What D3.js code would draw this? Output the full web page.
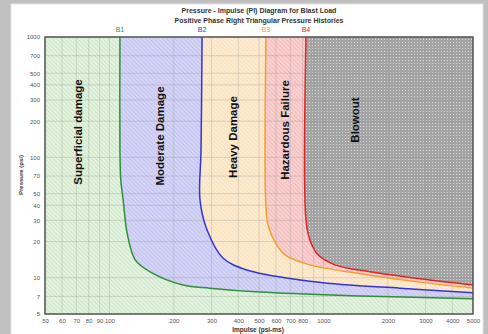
<!DOCTYPE html>
<html>
<head>
<meta charset="utf-8">
<script src="https://cdn.jsdelivr.net/npm/d3@7"></script>
<style>
  body { margin: 0; background: #c0c0c0; }
  svg { display: block; font-family: "Liberation Sans", Arial, sans-serif; }
</style>
</head>
<body>
<div id="chart"></div>
<script>
// curve data (impulse psi-ms, pressure psi)
const b1Impulse = [112, 112, 113, 116, 121, 132, 155, 221, 295, 505, 1330, 5000];
const b1Pressure = [1000, 115, 65, 44, 23.5, 14.1, 11.2, 8.7, 8.2, 7.6, 7.1, 6.7];
const b2Impulse = [271, 268, 265, 286, 339, 439, 778, 1330, 2280, 5000];
const b2Pressure = [1000, 115, 44.3, 24.9, 14.6, 11.6, 9.6, 8.7, 8.2, 7.5];
const b3Impulse = [539, 537, 551, 594, 661, 865, 1483, 2827, 5000];
const b3Pressure = [1000, 44.3, 27.4, 19.8, 15.5, 12.8, 10.8, 9.2, 8.2];
const b4Impulse = [829, 829, 865, 943, 1133, 1651, 2827, 5000];
const b4Pressure = [1000, 30.2, 20.6, 15.5, 12.8, 11.2, 9.8, 8.7];

const xTicks = [50, 60, 70, 80, 90, 100, 200, 300, 400, 500, 600, 700, 800, 1000, 2000, 3000, 4000, 5000];
const xGrid = [50, 60, 70, 80, 90, 100, 200, 300, 400, 500, 600, 700, 800, 900, 1000, 2000, 3000, 4000, 5000];
const yTicks = [5, 7, 10, 20, 30, 40, 50, 70, 100, 200, 300, 400, 500, 700, 1000];

const zones = ["Superficial damage", "Moderate Damage", "Heavy Damage", "Hazardous Failure", "Blowout"];
const boundaryNames = ["B1", "B2", "B3", "B4"];

const W = 488, H = 334;
const margin = { top: 37, right: 15, bottom: 20, left: 45 };

const svg = d3.select("#chart").append("svg")
  .attr("width", W).attr("height", H);

const x = d3.scaleLog().domain([50, 5000]).range([margin.left, W - margin.right]);
const y = d3.scaleLog().domain([5, 1000]).range([H - margin.bottom, margin.top]);

// panel
svg.append("rect").attr("width", W).attr("height", H).attr("fill", "#c0c0c0");
svg.append("rect").attr("x", 11).attr("y", 4).attr("width", 472).attr("height", 340)
  .attr("fill", "#fff").attr("stroke", "#e4e4e4");

// patterns
const defs = svg.append("defs");
function hatch(id, bg, fg) {
  const p = defs.append("pattern").attr("id", id)
    .attr("patternUnits", "userSpaceOnUse").attr("width", 3).attr("height", 3)
    .attr("patternTransform", "rotate(-45)");
  p.append("rect").attr("width", 3).attr("height", 3).attr("fill", bg);
  p.append("line").attr("x1", 0).attr("y1", 0).attr("x2", 0).attr("y2", 3)
    .attr("stroke", fg).attr("stroke-width", 1);
}
hatch("pGreen", "#e2f2de", "#bfdcb8");
hatch("pBlue", "#d4d4f6", "#b4b4ea");
hatch("pOrange", "#fdebd0", "#f6d6ac");
hatch("pRed", "#f9d0d0", "#f0a8a8");
const dots = defs.append("pattern").attr("id", "pGray")
  .attr("patternUnits", "userSpaceOnUse").attr("width", 3).attr("height", 3);
dots.append("rect").attr("width", 3).attr("height", 3).attr("fill", "#a4a4a4");
dots.append("rect").attr("width", 1).attr("height", 1).attr("fill", "#d8d8d8");

const curves = [
  { imp: b1Impulse, pr: b1Pressure, color: "#2f8f3a", fill: "url(#pBlue)" },
  { imp: b2Impulse, pr: b2Pressure, color: "#3434d4", fill: "url(#pOrange)" },
  { imp: b3Impulse, pr: b3Pressure, color: "#f0a030", fill: "url(#pRed)" },
  { imp: b4Impulse, pr: b4Pressure, color: "#e02424", fill: "url(#pGray)" }
].map(c => ({ ...c, pts: c.imp.map((v, i) => [v, c.pr[i]]) }));

const lineX = d3.line().x(d => x(d[0])).y(d => y(d[1])).curve(d3.curveCatmullRom.alpha(0.5));

// base green zone
svg.append("rect")
  .attr("x", x(50)).attr("y", y(1000))
  .attr("width", x(5000) - x(50)).attr("height", y(5) - y(1000))
  .attr("fill", "url(#pGreen)");

curves.forEach(c => {
  svg.append("path")
    .attr("d", lineX(c.pts) + "L" + x(5000) + "," + y(1000) + "Z")
    .attr("fill", c.fill);
});

// grid
const grid = svg.append("g").attr("stroke", "#8a8a8a").attr("stroke-opacity", 0.35).attr("stroke-width", 0.8);
xGrid.forEach(v => grid.append("line")
  .attr("x1", x(v)).attr("x2", x(v)).attr("y1", y(1000)).attr("y2", y(5)));
yTicks.forEach(v => grid.append("line")
  .attr("x1", x(50)).attr("x2", x(5000)).attr("y1", y(v)).attr("y2", y(v)));

// boundary curves
curves.forEach(c => {
  svg.append("path").attr("d", lineX(c.pts))
    .attr("fill", "none").attr("stroke", c.color).attr("stroke-width", 1.5);
});

// frame
svg.append("rect")
  .attr("x", x(50)).attr("y", y(1000))
  .attr("width", x(5000) - x(50)).attr("height", y(5) - y(1000))
  .attr("fill", "none").attr("stroke", "#555").attr("stroke-width", 1.5);

// axes
const xAxis = svg.append("g")
  .attr("transform", "translate(0," + y(5) + ")")
  .call(d3.axisBottom(x).tickValues(xTicks).tickFormat(d3.format("d")).tickSize(0).tickPadding(5));
const yAxis = svg.append("g")
  .attr("transform", "translate(" + x(50) + ",0)")
  .call(d3.axisLeft(y).tickValues(yTicks).tickFormat(d3.format("d")).tickSize(0).tickPadding(5));
[xAxis, yAxis].forEach(a => {
  a.select(".domain").remove();
  a.selectAll("text").attr("font-size", 6).attr("fill", "#555").attr("font-family", "Liberation Sans, Arial");
});

// titles
svg.append("text").attr("x", 259).attr("y", 13).attr("text-anchor", "middle")
  .attr("font-size", 7).attr("font-weight", "bold").attr("fill", "#333")
  .text("Pressure - Impulse (PI) Diagram for Blast Load");
svg.append("text").attr("x", 259).attr("y", 23).attr("text-anchor", "middle")
  .attr("font-size", 7).attr("font-weight", "bold").attr("fill", "#333")
  .text("Positive Phase Right Triangular Pressure Histories");

// boundary labels
curves.forEach((c, i) => {
  svg.append("text").attr("x", x(c.imp[0])).attr("y", 32).attr("text-anchor", "middle")
    .attr("font-size", 7).attr("fill", c.color).text(boundaryNames[i]);
});

// zone labels
const zonePos = [[78, 132], [160, 136], [233, 137], [285, 130], [355, 120]];
zones.forEach((z, i) => {
  svg.append("text")
    .attr("transform", "translate(" + zonePos[i][0] + "," + zonePos[i][1] + ") rotate(-90)")
    .attr("text-anchor", "middle").attr("dominant-baseline", "central")
    .attr("font-size", 11.5).attr("font-weight", "bold").attr("fill", "#111")
    .text(z);
});

// axis titles
svg.append("text").attr("transform", "translate(21,175) rotate(-90)")
  .attr("text-anchor", "middle").attr("dominant-baseline", "central")
  .attr("font-size", 6).attr("font-weight", "bold").attr("fill", "#333")
  .text("Pressure (psi)");
svg.append("text").attr("x", 258).attr("y", 332).attr("text-anchor", "middle")
  .attr("font-size", 6.5).attr("font-weight", "bold").attr("fill", "#333")
  .text("Impulse (psi-ms)");
</script>
</body>
</html>
